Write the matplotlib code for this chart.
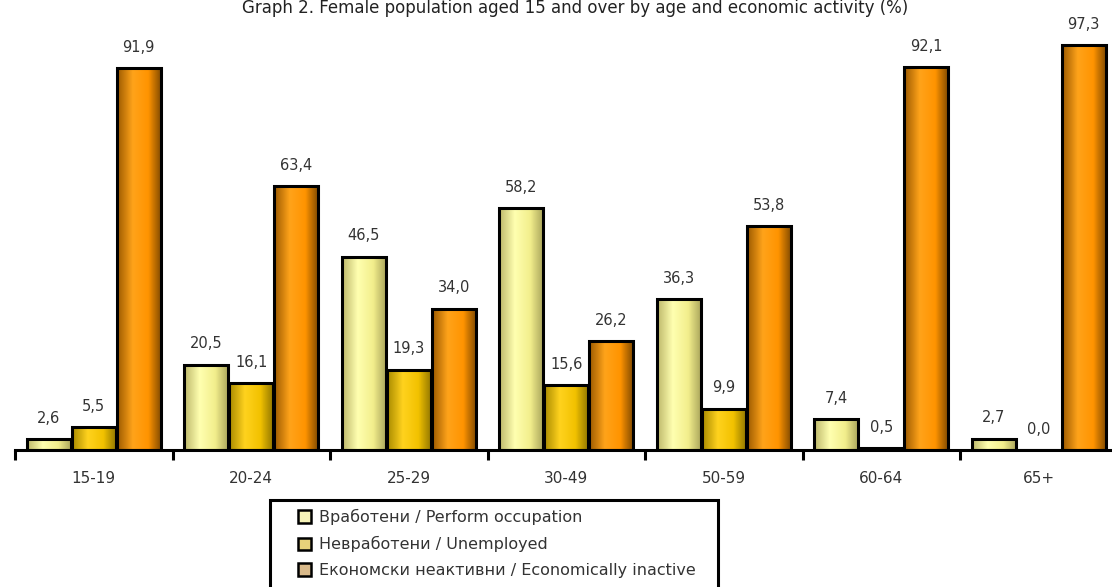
import numpy as np
import matplotlib as mpl
mpl.use("Agg")
import matplotlib.pyplot as plt
from matplotlib.colors import LinearSegmentedColormap
from matplotlib.patches import Patch, Rectangle

TITLE = "Graph 2. Female population aged 15 and over by age and economic activity (%)"
age_groups = ["15-19", "20-24", "25-29", "30-49", "50-59", "60-64", "65+"]
series_names = ["Вработени / Perform occupation",
                "Невработени / Unemployed",
                "Економски неактивни / Economically inactive"]
employed = [2.6, 20.5, 46.5, 58.2, 36.3, 7.4, 2.7]
unemployed = [5.5, 16.1, 19.3, 15.6, 9.9, 0.5, 0.0]
inactive = [91.9, 63.4, 34.0, 26.2, 53.8, 92.1, 97.3]

# edge / highlight / base colours for each series (fake 3D gradient)
shades = [
    ["#bdb86a", "#ffffb0", "#f2ee8c", "#a8a35a"],
    ["#a88a00", "#ffd21e", "#f2c200", "#8f7400"],
    ["#9c5a00", "#ffa31a", "#ff9400", "#7d4800"],
]
legend_fill = ["#f6f3b8", "#e8d27a", "#d9b98a"]

fig = plt.figure(figsize=(11.12, 5.87), dpi=100)
ax = fig.add_axes([15 / 1112, 137 / 587, 1102.5 / 1112, 420 / 587])

x = np.arange(len(age_groups)) + 0.5
width = 0.28
offsets = [-0.285, 0.0, 0.285]
grad = np.linspace(0, 1, 64).reshape(1, -1)

for vals, off, cols in zip([employed, unemployed, inactive], offsets, shades):
    cmap = LinearSegmentedColormap.from_list("g", list(zip([0, 0.35, 0.7, 1.0], cols)))
    bars = ax.bar(x + off, vals, width, facecolor="none", edgecolor="black",
                  linewidth=2.2, zorder=3)
    for b, v in zip(bars, vals):
        if v > 0:
            ax.imshow(grad, extent=[b.get_x(), b.get_x() + b.get_width(), 0, b.get_height()],
                      aspect="auto", cmap=cmap, zorder=2, interpolation="bilinear")
        ax.annotate(f"{v:.1f}".replace(".", ","), (b.get_x() + b.get_width() / 2, v),
                    xytext=(0, 15), textcoords="offset points", ha="center", va="center",
                    fontsize=10.5, color="#333333", annotation_clip=False)

ax.set_xlim(0, len(age_groups))
ax.set_ylim(0, 101)
ax.set_yticks([])
for s in ["left", "right", "top"]:
    ax.spines[s].set_visible(False)
ax.spines["bottom"].set_linewidth(2.2)
ax.set_xticks(np.arange(len(age_groups) + 1))
ax.set_xticklabels([])
ax.set_xticks(x, minor=True)
ax.set_xticklabels(age_groups, minor=True, fontsize=11, color="#333333")
ax.tick_params(axis="x", which="major", direction="out", length=7, width=2.2)
ax.tick_params(axis="x", which="minor", length=0, pad=15)
ax.patch.set_alpha(0)

fig.text(575 / 1112, 1 - 8 / 587, TITLE, ha="center", va="center", fontsize=12, color="#222222")

# legend box
fig.patches.append(Rectangle((270 / 1112, -0.05), 448 / 1112, 0.05 + 87 / 587,
                             transform=fig.transFigure, facecolor="white",
                             edgecolor="black", linewidth=2.2))
handles = [Patch(facecolor=c, edgecolor="black", linewidth=1.8) for c in legend_fill]
fig.legend(handles, series_names, loc="upper left", frameon=False,
           bbox_to_anchor=(298 / 1112, 1 - 509 / 587), fontsize=11.5,
           handlelength=0.8, handleheight=0.8, handletextpad=0.5,
           labelspacing=0.68, borderaxespad=0, borderpad=0,
           labelcolor="#333333")

fig.savefig("out.png", dpi=100)
